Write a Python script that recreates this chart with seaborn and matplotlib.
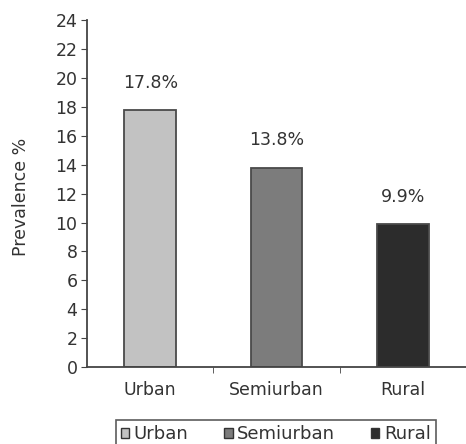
import pandas as pd
import matplotlib.pyplot as plt
import seaborn as sns
from matplotlib.patches import Patch

categories = ['Urban', 'Semiurban', 'Rural']
prevalence = [17.8, 13.8, 9.9]
bar_labels = ['17.8%', '13.8%', '9.9%']
colors = ['#c2c2c2', '#7c7c7c', '#2c2c2c']

df = pd.DataFrame({'Area': categories, 'Prevalence': prevalence})

sns.set_style('white')
plt.rcParams['font.family'] = ['DejaVu Sans']
fs = 12.5
txt = '#333333'

fig = plt.figure(figsize=(4.66, 4.44), dpi=100)
ax = fig.add_axes([0.187, 0.173, 0.813, 0.782])
sns.barplot(data=df, x='Area', y='Prevalence', hue='Area', palette=colors,
            width=0.41, edgecolor='#4a4a4a', linewidth=1.3, legend=False, ax=ax)

for i, (v, lab) in enumerate(zip(prevalence, bar_labels)):
    ax.annotate(lab, (i, v), xytext=(0, 13), textcoords='offset points',
                ha='center', va='bottom', fontsize=fs, color=txt)

ax.set_ylim(0, 24)
ax.set_xlim(-0.5, 2.5)
ax.set_yticks(range(0, 25, 2))
ax.set_xticks([0.5, 1.5], minor=True)
ax.tick_params(axis='x', which='major', length=0, pad=10, labelsize=fs, labelcolor=txt)
ax.tick_params(axis='x', which='minor', length=4, direction='out', bottom=True, color='#444444')
ax.tick_params(axis='y', length=4, direction='out', left=True, labelsize=fs,
               color='#444444', labelcolor=txt, pad=3)
ax.set_xlabel('')
ax.set_ylabel('Prevalence %', fontsize=fs, color=txt)
ax.yaxis.set_label_coords(-0.152, 0.49)
sns.despine(ax=ax)
for s in ['left', 'bottom']:
    ax.spines[s].set_color('#444444')
    ax.spines[s].set_linewidth(1.3)

handles = [Patch(facecolor=c, edgecolor='#333333', label=l) for c, l in zip(colors, categories)]
leg = fig.legend(handles=handles, loc='upper center', bbox_to_anchor=(0.592, 0.054), ncol=3,
                 frameon=True, fancybox=False, edgecolor='#333333', fontsize=13,
                 handlelength=0.45, handleheight=0.45, handletextpad=0.25, columnspacing=2.0,
                 borderpad=0.3, borderaxespad=0)
leg.get_frame().set_linewidth(1.2)
for t in leg.get_texts():
    t.set_color(txt)

fig.savefig('out.png', dpi=100)
